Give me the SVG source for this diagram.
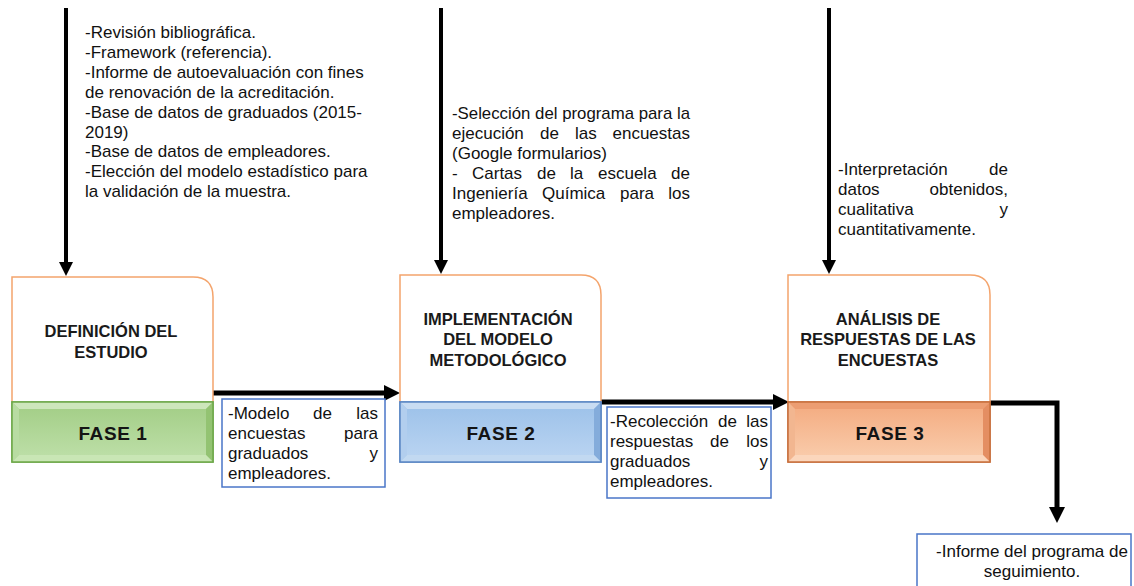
<svg xmlns="http://www.w3.org/2000/svg" width="1134" height="586" viewBox="0 0 1134 586">
<style>
.t{font-family:"Liberation Sans",Arial,sans-serif;font-size:17px;fill:#111}
.h{font-family:"Liberation Sans",Arial,sans-serif;font-size:16.5px;font-weight:bold;fill:#1a1a1a;text-anchor:middle}
.f{font-family:"Liberation Sans",Arial,sans-serif;font-size:19px;font-weight:bold;fill:#141414;letter-spacing:0.6px;text-anchor:middle}
.e{text-anchor:end}
.m{text-anchor:middle}
.card{fill:#fff;stroke:#f4a46c;stroke-width:1.5}
.tb{fill:#fff;stroke:#4a76c8;stroke-width:1.5}
.vl{stroke:#000;stroke-width:4;fill:none}
.hl{stroke:#000;stroke-width:5;fill:none}
.g0{fill:#a6d08a;stroke:#6ea84a;stroke-width:1.5}.g1{fill:#cde6bb}.g2{fill:#b8dca2}.g3{fill:#93c372}.g4{fill:#c9e6b5}.g5{fill:url(#gg)}
.b0{fill:#9cc2e8;stroke:#5b86c4;stroke-width:1.5}.b1{fill:#c8dcf2}.b2{fill:#b2ceee}.b3{fill:#84acdb}.b4{fill:#c2d9f1}.b5{fill:url(#gb)}
.o0{fill:#f2a97c;stroke:#c8703e;stroke-width:1.5}.o1{fill:#ec9d72}.o2{fill:#f2b690}.o3{fill:#e48e62}.o4{fill:#fbd6bc}.o5{fill:url(#go)}
</style>
<defs>
<linearGradient id="gg" x1="0" y1="0" x2="0" y2="1"><stop offset="0" stop-color="#a5cf89"/><stop offset="1" stop-color="#bcdea6"/></linearGradient>
<linearGradient id="gb" x1="0" y1="0" x2="0" y2="1"><stop offset="0" stop-color="#9fc3ea"/><stop offset="1" stop-color="#b8d3f1"/></linearGradient>
<linearGradient id="go" x1="0" y1="0" x2="0" y2="1"><stop offset="0" stop-color="#f4ae84"/><stop offset="1" stop-color="#f9caa9"/></linearGradient>
<marker id="ahv" markerUnits="userSpaceOnUse" markerWidth="16" markerHeight="16" refX="1" refY="7" orient="auto"><path d="M0,0 L14,7 L0,14 z" fill="#000"/></marker>
<marker id="ahh" markerUnits="userSpaceOnUse" markerWidth="18" markerHeight="18" refX="1" refY="8" orient="auto"><path d="M0,0 L16,8 L0,16 z" fill="#000"/></marker>
</defs>

<g id="connectors">
<line class="vl" x1="66" y1="8" x2="66" y2="263" marker-end="url(#ahv)"/>
<line class="vl" x1="441" y1="8" x2="441" y2="261" marker-end="url(#ahv)"/>
<line class="vl" x1="829" y1="8" x2="829" y2="261" marker-end="url(#ahv)"/>
<line class="hl" x1="213" y1="393" x2="385" y2="393" marker-end="url(#ahh)"/>
<line class="hl" x1="601" y1="402" x2="774" y2="402" marker-end="url(#ahh)"/>
<path class="hl" d="M990,403 H1057 V508" marker-end="url(#ahh)"/>
</g>

<g id="input1">
<text class="t" x="85" y="38">-Revisión bibliográfica.</text>
<text class="t" x="85" y="58">-Framework (referencia).</text>
<text class="t" x="85" y="78">-Informe de autoevaluación con fines</text>
<text class="t" x="85" y="98">de renovación de la acreditación.</text>
<text class="t" x="85" y="118">-Base de datos de graduados (2015-</text>
<text class="t" x="85" y="138">2019)</text>
<text class="t" x="85" y="157">-Base de datos de empleadores.</text>
<text class="t" x="85" y="177">-Elección del modelo estadístico para</text>
<text class="t" x="85" y="197">la validación de la muestra.</text>
</g>

<g id="input2">
<text class="t" x="452" y="119" textLength="238" lengthAdjust="spacingAndGlyphs">-Selección del programa para la</text>
<text class="t" x="452" y="139">ejecución</text><text class="t" x="540" y="139">de</text><text class="t" x="575" y="139">las</text><text class="t e" x="690" y="139">encuestas</text>
<text class="t" x="452" y="159">(Google formularios)</text>
<text class="t" x="452" y="179">-</text><text class="t" x="472" y="179">Cartas</text><text class="t" x="537" y="179">de</text><text class="t" x="570" y="179">la</text><text class="t" x="598" y="179">escuela</text><text class="t e" x="690" y="179">de</text>
<text class="t" x="452" y="199">Ingeniería</text><text class="t" x="542" y="199">Química</text><text class="t" x="620" y="199">para</text><text class="t e" x="690" y="199">los</text>
<text class="t" x="452" y="219">empleadores.</text>
</g>

<g id="input3">
<text class="t" x="838" y="175">-Interpretación</text><text class="t e" x="1008" y="175">de</text>
<text class="t" x="838" y="195">datos</text><text class="t e" x="1008" y="195">obtenidos,</text>
<text class="t" x="838" y="215">cualitativa</text><text class="t e" x="1008" y="215">y</text>
<text class="t" x="838" y="235">cuantitativamente.</text>
</g>

<g id="fase1">
<path class="card" d="M12,402 V277 H193 Q213,277 213,297 V402"/>
<text class="h" x="111" y="337">DEFINICIÓN DEL</text>
<text class="h" x="111" y="358">ESTUDIO</text>
<rect class="g0" x="12" y="402" width="201" height="60"/>
<polygon class="g1" points="12,402 213,402 206,409 19,409"/>
<polygon class="g2" points="12,402 19,409 19,455 12,462"/>
<polygon class="g3" points="213,402 213,462 206,455 206,409"/>
<polygon class="g4" points="12,462 19,455 206,455 213,462"/>
<rect class="g5" x="19" y="409" width="187" height="46"/>
<rect x="12" y="402" width="201" height="60" fill="none" stroke="#6ea84a" stroke-width="1.5"/>
<text class="f" x="113" y="440">FASE 1</text>
</g>

<g id="fase2">
<path class="card" d="M400,402 V275 H581 Q601,275 601,295 V402"/>
<text class="h" x="498" y="325">IMPLEMENTACIÓN</text>
<text class="h" x="498" y="345">DEL MODELO</text>
<text class="h" x="498" y="366">METODOLÓGICO</text>
<rect class="b0" x="400" y="402" width="201" height="60"/>
<polygon class="b1" points="400,402 601,402 594,409 407,409"/>
<polygon class="b2" points="400,402 407,409 407,455 400,462"/>
<polygon class="b3" points="601,402 601,462 594,455 594,409"/>
<polygon class="b4" points="400,462 407,455 594,455 601,462"/>
<rect class="b5" x="407" y="409" width="187" height="46"/>
<rect x="400" y="402" width="201" height="60" fill="none" stroke="#5b86c4" stroke-width="1.5"/>
<text class="f" x="501" y="440">FASE 2</text>
</g>

<g id="fase3">
<path class="card" d="M788,402 V275 H970 Q990,275 990,295 V402"/>
<text class="h" x="888" y="325">ANÁLISIS DE</text>
<text class="h" x="888" y="345">RESPUESTAS DE LAS</text>
<text class="h" x="888" y="366">ENCUESTAS</text>
<rect class="o0" x="788" y="402" width="202" height="60"/>
<polygon class="o1" points="788,402 990,402 983,409 795,409"/>
<polygon class="o2" points="788,402 795,409 795,455 788,462"/>
<polygon class="o3" points="990,402 990,462 983,455 983,409"/>
<polygon class="o4" points="788,462 795,455 983,455 990,462"/>
<rect class="o5" x="795" y="409" width="188" height="46"/>
<rect x="788" y="402" width="202" height="60" fill="none" stroke="#c8703e" stroke-width="1.5"/>
<text class="f" x="890" y="440">FASE 3</text>
</g>

<g id="output1">
<rect class="tb" x="222" y="399" width="163" height="88"/>
<text class="t" x="228" y="419">-Modelo</text><text class="t" x="313" y="419">de</text><text class="t e" x="378" y="419">las</text>
<text class="t" x="228" y="439">encuestas</text><text class="t e" x="378" y="439">para</text>
<text class="t" x="228" y="459">graduados</text><text class="t e" x="378" y="459">y</text>
<text class="t" x="228" y="479">empleadores.</text>
</g>

<g id="output2">
<rect class="tb" x="607" y="407" width="164" height="91"/>
<text class="t" x="610" y="427">-Recolección</text><text class="t" x="718" y="427">de</text><text class="t e" x="768" y="427">las</text>
<text class="t" x="610" y="447">respuestas</text><text class="t" x="710" y="447">de</text><text class="t e" x="768" y="447">los</text>
<text class="t" x="610" y="467">graduados</text><text class="t e" x="768" y="467">y</text>
<text class="t" x="610" y="487">empleadores.</text>
</g>

<g id="output3">
<rect class="tb" x="917" y="534" width="214" height="60"/>
<text class="t m" x="1032" y="557">-Informe del programa de</text>
<text class="t m" x="1032" y="577">seguimiento.</text>
</g>
</svg>
